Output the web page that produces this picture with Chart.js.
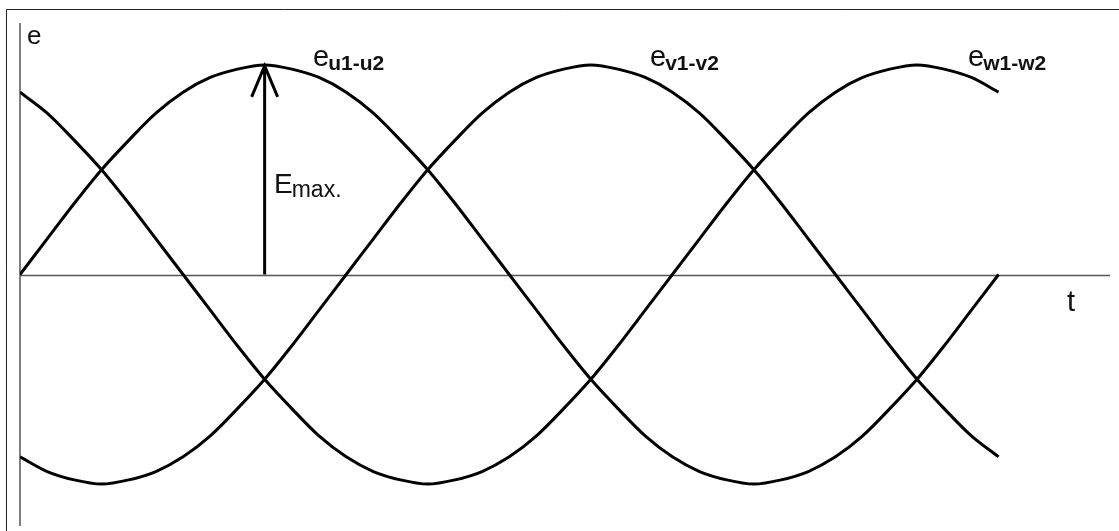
<!DOCTYPE html>
<html>
<head>
<meta charset="utf-8">
<script src="https://cdn.jsdelivr.net/npm/chart.js@4/dist/chart.umd.min.js"></script>
<style>
  html, body { margin: 0; padding: 0; background: #fff; }
  #wrap { width: 1119px; height: 531px; }
</style>
</head>
<body>
<div id="wrap"><canvas id="chart" width="1119" height="531"></canvas></div>
<script>
// electrical angle (deg) along t
const tDeg = [0, 10, 20, 30, 40, 50, 60, 70, 80, 90, 100, 110, 120, 130, 140, 150, 160, 170, 180,
  190, 200, 210, 220, 230, 240, 250, 260, 270, 280, 290, 300, 310, 320, 330, 340, 350, 360]

// e per unit of E max
const eU = [0, 0.17, 0.34, 0.5, 0.64, 0.77, 0.87, 0.94, 0.98, 1, 0.98, 0.94, 0.87, 0.77, 0.64, 0.5, 0.34, 0.17, 0,
  -0.17, -0.34, -0.5, -0.64, -0.77, -0.87, -0.94, -0.98, -1, -0.98, -0.94, -0.87, -0.77, -0.64, -0.5, -0.34, -0.17, 0]
const eV = [-0.87, -0.94, -0.98, -1, -0.98, -0.94, -0.87, -0.77, -0.64, -0.5, -0.34, -0.17, 0,
  0.17, 0.34, 0.5, 0.64, 0.77, 0.87, 0.94, 0.98, 1, 0.98, 0.94, 0.87, 0.77, 0.64, 0.5, 0.34, 0.17, 0,
  -0.17, -0.34, -0.5, -0.64, -0.77, -0.87]
const eW = [0.87, 0.77, 0.64, 0.5, 0.34, 0.17, 0,
  -0.17, -0.34, -0.5, -0.64, -0.77, -0.87, -0.94, -0.98, -1, -0.98, -0.94, -0.87, -0.77, -0.64, -0.5, -0.34, -0.17, 0,
  0.17, 0.34, 0.5, 0.64, 0.77, 0.87, 0.94, 0.98, 1, 0.98, 0.94, 0.87]

const seriesNames = ['u1-u2', 'v1-v2', 'w1-w2']
const peakDeg = 90
const FONT = '"Liberation Sans", Arial, sans-serif'

const toPoints = arr => arr.map((v, i) => ({ x: tDeg[i], y: v }))

const mkLine = (name, arr) => ({
  label: 'e ' + name,
  data: toPoints(arr),
  borderColor: '#000',
  borderWidth: 3,
  pointRadius: 0,
  fill: false,
  cubicInterpolationMode: 'monotone'
})

// frame, axes, arrow and labels
const decor = {
  id: 'decor',
  beforeDatasetsDraw(chart) {
    const { ctx, chartArea: a, scales: { x, y } } = chart
    ctx.save()
    // outer frame (only top and left edge visible)
    ctx.strokeStyle = '#222'
    ctx.lineWidth = 1
    ctx.beginPath()
    ctx.moveTo(1119, 9.5)
    ctx.lineTo(6.5, 9.5)
    ctx.lineTo(6.5, 531)
    ctx.stroke()
    // axes
    ctx.strokeStyle = '#555'
    ctx.lineWidth = 1.5
    const y0 = Math.round(y.getPixelForValue(0)) + 0.5
    ctx.beginPath()
    ctx.moveTo(a.left, a.top)
    ctx.lineTo(a.left, a.bottom)
    ctx.moveTo(a.left, y0)
    ctx.lineTo(a.right, y0)
    ctx.stroke()
    ctx.restore()
  },
  afterDatasetsDraw(chart) {
    const { ctx, scales: { x, y } } = chart
    ctx.save()
    // E max arrow
    const ax = x.getPixelForValue(peakDeg)
    const yTop = y.getPixelForValue(1)
    ctx.strokeStyle = '#000'
    ctx.lineWidth = 3
    ctx.beginPath()
    ctx.moveTo(ax, y.getPixelForValue(0))
    ctx.lineTo(ax, yTop)
    ctx.moveTo(ax - 13, yTop + 32)
    ctx.lineTo(ax, yTop + 1)
    ctx.lineTo(ax + 13, yTop + 32)
    ctx.stroke()

    ctx.fillStyle = '#111'
    ctx.textBaseline = 'alphabetic'
    ctx.textAlign = 'left'
    const sub = (big, small, px, py, bigSize, subSize, subWeight) => {
      ctx.font = bigSize + 'px ' + FONT
      ctx.fillText(big, px, py)
      const w = ctx.measureText(big).width
      ctx.font = subWeight + ' ' + subSize + 'px ' + FONT
      ctx.fillText(small, px + w - 1, py + 4)
    }
    ctx.font = '26px ' + FONT
    ctx.fillText('e', 27, 44)
    sub('e', seriesNames[0], 313, 66, 29, 21, 'bold')
    sub('e', seriesNames[1], 650, 66, 29, 21, 'bold')
    sub('e', seriesNames[2], 968, 66, 29, 21, 'bold')
    sub('E', 'max.', 274, 193, 28, 23, 'normal')
    ctx.font = '29px ' + FONT
    ctx.fillText('t', 1067, 311)
    ctx.restore()
  }
}

new Chart(document.getElementById('chart'), {
  type: 'line',
  data: {
    datasets: [mkLine(seriesNames[0], eU), mkLine(seriesNames[1], eV), mkLine(seriesNames[2], eW)]
  },
  options: {
    responsive: false,
    animation: false,
    layout: { padding: { left: 20, top: 23, right: 9, bottom: 5 } },
    scales: {
      x: { type: 'linear', min: 0, max: 401, display: false },
      y: { min: -1.2, max: 1.2, display: false }
    },
    plugins: {
      legend: { display: false },
      tooltip: { enabled: false }
    }
  },
  plugins: [decor]
})
</script>
</body>
</html>
